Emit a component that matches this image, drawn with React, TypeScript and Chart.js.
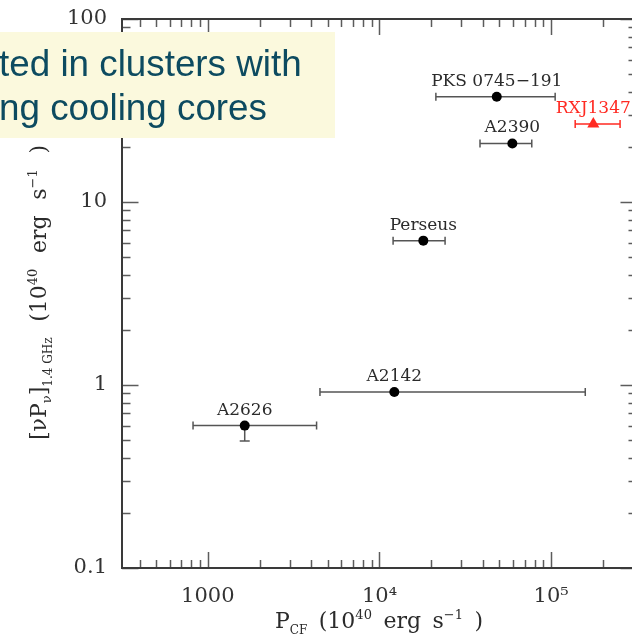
import React, { useEffect, useRef } from 'react';
import { Chart, registerables } from 'chart.js';

Chart.register(...registerables);

// ---------- data ----------
const clusterNames = ['A2626', 'A2142', 'Perseus', 'PKS 0745−191', 'A2390', 'RXJ1347'];
const coolingFlowPower = [1640, 12200, 18000, 48200, 59400, 176000];
const coolingFlowLow = [820, 4500, 12000, 21300, 38500, 138000];
const coolingFlowHigh = [4300, 158000, 24100, 105500, 77100, 252000];
const radioPower = [0.6, 0.915, 6.15, 37.6, 20.9, 26.7];
const radioLow: (number | null)[] = [0.495, null, null, null, null, null];
const radioHigh: (number | null)[] = [null, null, null, null, null, null];
const highlightedCluster = 'RXJ1347';

const xMajorTicks = [1000, 10000, 100000];
const xTickLabels = ['1000', '10⁴', '10⁵'];
const yMajorTicks = [0.1, 1, 10, 100];
const yTickLabels = ['0.1', '1', '10', '100'];
const xRange = [316.23, 316228];
const yRange = [0.1, 100];
const overlayLines = ['ted in clusters with', 'ng cooling cores'];

// ---------- styling ----------
const SERIF = '"DejaVu Serif", serif';
const SANS = '"Liberation Sans", Arial, sans-serif';
const RED = '#ff2a22';
const INK = '#2b2b2b';

type Seg = { t: string; size: number; dy: number; gap?: boolean };

const xTitle: Seg[] = [
  { t: 'P', size: 22, dy: 0 },
  { t: 'CF', size: 12, dy: 6 },
  { t: '(10', size: 22, dy: 0, gap: true },
  { t: '40', size: 13, dy: -9 },
  { t: 'erg', size: 22, dy: 0, gap: true },
  { t: 's', size: 22, dy: 0, gap: true },
  { t: '−1', size: 13, dy: -9 },
  { t: ')', size: 22, dy: 0, gap: true },
];

const yTitle: Seg[] = [
  { t: '[νP', size: 22, dy: 0 },
  { t: 'ν', size: 13, dy: 5 },
  { t: ']', size: 22, dy: 0 },
  { t: '1.4 GHz', size: 12, dy: 6 },
  { t: '(10', size: 22, dy: 0, gap: true },
  { t: '40', size: 13, dy: -9 },
  { t: 'erg', size: 22, dy: 0, gap: true },
  { t: 's', size: 22, dy: 0, gap: true },
  { t: '−1', size: 13, dy: -9 },
  { t: ')', size: 22, dy: 0, gap: true },
];

function drawRich(
  ctx: CanvasRenderingContext2D,
  segs: Seg[],
  cx: number,
  cy: number,
  rotate: boolean,
  target: number
) {
  ctx.save();
  ctx.translate(cx, cy);
  if (rotate) ctx.rotate(-Math.PI / 2);
  ctx.fillStyle = INK;
  ctx.textBaseline = 'alphabetic';
  ctx.textAlign = 'left';
  const widths = segs.map((s) => {
    ctx.font = `${s.size}px ${SERIF}`;
    return ctx.measureText(s.t).width;
  });
  const natural = widths.reduce((a, b) => a + b, 0);
  const gaps = segs.filter((s) => s.gap).length;
  const extra = gaps ? Math.max(0, (target - natural) / gaps) : 0;
  let xx = -(natural + extra * gaps) / 2;
  segs.forEach((s, i) => {
    if (s.gap) xx += extra;
    ctx.font = `${s.size}px ${SERIF}`;
    ctx.fillText(s.t, xx, s.dy);
    xx += widths[i];
  });
  ctx.restore();
}

function logTicks(min: number, max: number) {
  const out: { v: number; major: boolean }[] = [];
  for (let d = Math.floor(Math.log10(min)); d <= Math.ceil(Math.log10(max)); d++) {
    for (let k = 1; k <= 9; k++) {
      const v = k * Math.pow(10, d);
      if (v >= min * 0.999 && v <= max * 1.001) out.push({ v, major: k === 1 });
    }
  }
  return out;
}

const customDraw = {
  id: 'customDraw',
  beforeDatasetsDraw(chart: any) {
    const { ctx, chartArea: a, scales } = chart;
    const x = scales.x;
    const y = scales.y;
    ctx.save();
    // inward ticks on all four sides
    ctx.strokeStyle = '#5c5c5c';
    ctx.lineWidth = 1.5;
    ctx.beginPath();
    logTicks(xRange[0], xRange[1]).forEach(({ v, major }) => {
      const px = Math.round(x.getPixelForValue(v)) + 0.5;
      const len = major ? 16 : 8;
      ctx.moveTo(px, a.bottom);
      ctx.lineTo(px, a.bottom - len);
      ctx.moveTo(px, a.top);
      ctx.lineTo(px, a.top + len);
    });
    logTicks(yRange[0], yRange[1]).forEach(({ v, major }) => {
      const py = Math.round(y.getPixelForValue(v)) + 0.5;
      const len = major ? 16.5 : 8.5;
      ctx.moveTo(a.left, py);
      ctx.lineTo(a.left + len, py);
      ctx.moveTo(a.right, py);
      ctx.lineTo(a.right - len, py);
    });
    ctx.stroke();
    // frame
    ctx.strokeStyle = '#3a3a3a';
    ctx.lineWidth = 2;
    ctx.strokeRect(a.left, a.top, a.right - a.left, a.bottom - a.top);

    // error bars
    clusterNames.forEach((name, i) => {
      const col = name === highlightedCluster ? RED : '#555555';
      ctx.strokeStyle = col;
      ctx.lineWidth = 1.5;
      const py = y.getPixelForValue(radioPower[i]);
      const px = x.getPixelForValue(coolingFlowPower[i]);
      const x0 = x.getPixelForValue(coolingFlowLow[i]);
      const x1 = x.getPixelForValue(coolingFlowHigh[i]);
      ctx.beginPath();
      ctx.moveTo(x0, py);
      ctx.lineTo(x1, py);
      ctx.moveTo(x0, py - 4);
      ctx.lineTo(x0, py + 4);
      ctx.moveTo(x1, py - 4);
      ctx.lineTo(x1, py + 4);
      const lo = radioLow[i];
      if (lo != null) {
        const py0 = y.getPixelForValue(lo);
        ctx.moveTo(px, py);
        ctx.lineTo(px, py0);
        ctx.moveTo(px - 5, py0);
        ctx.lineTo(px + 5, py0);
      }
      const hi = radioHigh[i];
      if (hi != null) {
        const py1 = y.getPixelForValue(hi);
        ctx.moveTo(px, py);
        ctx.lineTo(px, py1);
        ctx.moveTo(px - 5, py1);
        ctx.lineTo(px + 5, py1);
      }
      ctx.stroke();
    });
    ctx.restore();
  },
  afterDatasetsDraw(chart: any) {
    const { ctx, scales } = chart;
    const x = scales.x;
    const y = scales.y;
    ctx.save();
    ctx.textAlign = 'center';
    ctx.textBaseline = 'alphabetic';
    ctx.font = `17px ${SERIF}`;
    clusterNames.forEach((name, i) => {
      ctx.fillStyle = name === highlightedCluster ? RED : INK;
      const px = x.getPixelForValue(coolingFlowPower[i]);
      const py = y.getPixelForValue(radioPower[i]);
      ctx.fillText(name, px, py - 11);
    });
    ctx.restore();
    drawRich(ctx, xTitle, 379, 628, false, 208);
    drawRich(ctx, yTitle, 46, 292.5, true, 295);
  },
  afterDraw(chart: any) {
    const { ctx } = chart;
    ctx.save();
    ctx.fillStyle = '#fbf9dd';
    ctx.fillRect(0, 32, 335, 106);
    ctx.fillStyle = '#0d4b60';
    ctx.font = `36.8px ${SANS}`;
    ctx.textAlign = 'left';
    ctx.textBaseline = 'alphabetic';
    ctx.fillText(overlayLines[0], -1, 76);
    ctx.fillText(overlayLines[1], -1, 120);
    ctx.restore();
  },
};

export default function App() {
  const canvasRef = useRef<HTMLCanvasElement>(null);

  useEffect(() => {
    const canvas = canvasRef.current;
    if (!canvas) return;
    const chart = new Chart(canvas, {
      type: 'scatter',
      data: {
        datasets: [
          {
            data: clusterNames.map((_, i) => ({ x: coolingFlowPower[i], y: radioPower[i] })),
            pointStyle: (c: any) =>
              clusterNames[c.dataIndex] === highlightedCluster ? 'triangle' : 'circle',
            pointRadius: (c: any) => (clusterNames[c.dataIndex] === highlightedCluster ? 7 : 5),
            pointBackgroundColor: (c: any) =>
              clusterNames[c.dataIndex] === highlightedCluster ? RED : '#000000',
            pointBorderColor: (c: any) =>
              clusterNames[c.dataIndex] === highlightedCluster ? RED : '#000000',
            pointBorderWidth: 0,
            showLine: false,
          } as any,
        ],
      },
      options: {
        responsive: false,
        animation: false,
        events: [],
        layout: { padding: { top: 19, right: 23, bottom: 0, left: 0 } },
        plugins: { legend: { display: false }, tooltip: { enabled: false } },
        scales: {
          x: {
            type: 'logarithmic',
            position: 'bottom',
            min: xRange[0],
            max: xRange[1],
            grid: { display: false, drawTicks: false },
            border: { display: false },
            afterBuildTicks: (s: any) => {
              s.ticks = xMajorTicks.map((v) => ({ value: v }));
            },
            afterFit: (s: any) => {
              s.height = 69;
              s.paddingLeft = 0;
              s.paddingRight = 0;
            },
            ticks: {
              autoSkip: false,
              maxRotation: 0,
              padding: 16,
              color: '#333333',
              font: { family: 'DejaVu Serif', size: 21 },
              callback: (_v: any, idx: number) => xTickLabels[idx],
            },
          },
          y: {
            type: 'logarithmic',
            position: 'left',
            min: yRange[0],
            max: yRange[1],
            grid: { display: false, drawTicks: false },
            border: { display: false },
            afterBuildTicks: (s: any) => {
              s.ticks = yMajorTicks.map((v) => ({ value: v }));
            },
            afterFit: (s: any) => {
              s.width = 122;
              s.paddingTop = 0;
              s.paddingBottom = 0;
            },
            ticks: {
              autoSkip: false,
              padding: 15,
              color: '#333333',
              font: { family: 'DejaVu Serif', size: 21 },
              callback: (_v: any, idx: number) => yTickLabels[idx],
            },
          },
        },
      } as any,
      plugins: [customDraw],
    });
    return () => chart.destroy();
  }, []);

  return (
    <div
      style={{
        position: 'fixed',
        left: 0,
        top: 0,
        width: 632,
        height: 637,
        overflow: 'hidden',
        background: '#ffffff',
      }}
    >
      <canvas ref={canvasRef} width={660} height={637} style={{ display: 'block' }} />
    </div>
  );
}
